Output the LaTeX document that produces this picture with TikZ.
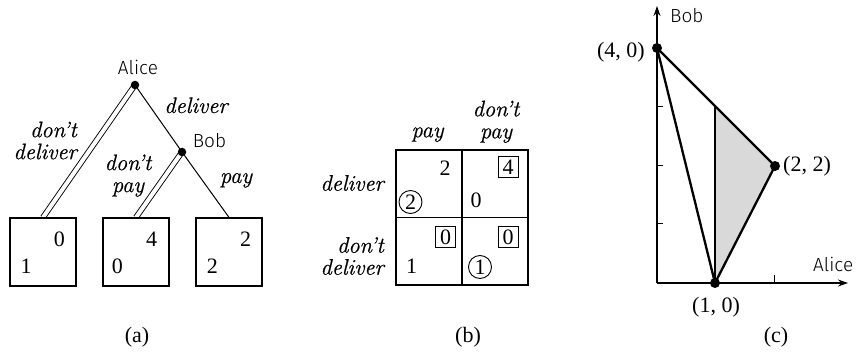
\documentclass[tikz,border=0pt]{standalone}
\usepackage{fontspec}
\setmainfont{Liberation Serif}
\newfontfamily\itserif{Latin Modern Roman}[FakeBold=0.6, Ligatures=TeX]
\newfontfamily\handfont{Fira Sans Light}
\usetikzlibrary{arrows.meta,backgrounds}
\definecolor{lightshade}{RGB}{217,217,217}
\begin{document}
\begin{tikzpicture}[x=1pt,y=-1pt,
  serif/.style={font=\fontsize{22}{22}\selectfont, inner sep=0},
  ital/.style={font=\itserif\itshape\fontsize{22.5}{22}\selectfont, inner sep=0},
  hand/.style={font=\handfont\fontsize{19}{20}\selectfont, inner sep=0},
  blackdot/.style={circle, fill, inner sep=0, minimum size=8.5pt},
  bigdot/.style={circle, fill, inner sep=0, minimum size=10pt},
  payoffbox/.style={draw, line width=1.2pt, minimum width=66pt, minimum height=68pt, inner sep=0},
  treeline/.style={line width=1pt},
  dbl/.style={double, double distance=4pt, line width=0.9pt},
  cell/.style={draw, line width=1.2pt, minimum width=66pt, minimum height=67.5pt, inner sep=0},
  boxed/.style={serif, draw, line width=1pt, minimum width=20pt, minimum height=21pt},
  circled/.style={serif, draw, circle, line width=0.9pt, minimum size=23pt},
  polyline/.style={line width=2.3pt, line join=round},
  axisline/.style={line width=1.2pt},
  ticks/.style={line width=1pt},
]
\useasboundingbox (0,0) rectangle (868,358);

% ---------- (a) ----------
\node[blackdot] (alice) at (135,85) {};
\node[blackdot] (bob) at (182,152) {};
\node[payoffbox] (box1) at (43,252) {};
\node[payoffbox] (box2) at (136,252) {};
\node[payoffbox] (box3) at (229,252) {};
\begin{pgfonlayer}{background}
  \draw[dbl] (alice.center) -- (box1.north);
  \draw[treeline] (alice.center) -- (bob.center);
  \draw[dbl] (bob.center) -- (box2.north);
  \draw[treeline] (bob.center) -- (box3.north);
\end{pgfonlayer}
\node[hand, anchor=base] (alicelbl) at (138,75) {Alice};
\node[hand, anchor=base] (boblbl) at (209.5,148) {Bob};
\node[ital, anchor=base] (ldeliver) at (196,113) {deliver};
\node[ital, align=right, anchor=east] (ldontdeliver) at (77,140.5) {don’t\\deliver};
\node[ital, align=center] (ldontpay) at (128,175.6) {don’t\\pay};
\node[ital, anchor=base] (lpay) at (236,183) {pay};
\node[serif, anchor=base] (b1a) at (59.3,247) {0};
\node[serif, anchor=base] (b1b) at (26,273) {1};
\node[serif, anchor=base] (b2a) at (151.7,247) {4};
\node[serif, anchor=base] (b2b) at (117.3,273) {0};
\node[serif, anchor=base] (b3a) at (245.7,247) {2};
\node[serif, anchor=base] (b3b) at (212.3,273) {2};
\node[serif, anchor=base] (capa) at (137,342) {(a)};

% ---------- (b) ----------
\node[cell] (c11) at (429,183.75) {};
\node[cell] (c12) at (495,183.75) {};
\node[cell] (c21) at (429,251.25) {};
\node[cell] (c22) at (495,251.25) {};
\node[ital, anchor=base] (colpay) at (427.5,137.3) {pay};
\node[ital, align=center] (coldontpay) at (496,121.8) {don’t\\pay};
\node[ital, anchor=base east] (rowdeliver) at (384,190.7) {deliver};
\node[ital, align=right, anchor=east] (rowdontdeliver) at (384,256) {don’t\\deliver};
\node[serif, anchor=base] (m11a) at (445,176) {2};
\node[circled] (m11b) at (410.5,202) {2};
\node[boxed] (m12a) at (508,167) {4};
\node[serif, anchor=base] (m12b) at (476,208) {0};
\node[boxed] (m21a) at (445.5,237.5) {0};
\node[serif, anchor=base] (m21b) at (411.5,274) {1};
\node[boxed] (m22a) at (508,237.5) {0};
\node[circled] (m22b) at (480,267) {1};
\node[serif, anchor=base] (capb) at (468,342) {(b)};

% ---------- (c) ----------
\coordinate (origin) at (657,283);
\coordinate (ytip) at (657,6);
\coordinate (xtip) at (848,283);
\coordinate (top) at (715,107);
\node[bigdot] (p40) at (657,48) {};
\node[bigdot] (p22) at (775,166) {};
\node[bigdot] (p10) at (715,283) {};
\begin{pgfonlayer}{background}
  \fill[lightshade] (top) -- (p22.center) -- (p10.center) -- cycle;
  \draw[axisline, -{Stealth[length=10pt,width=7pt]}] (origin) -- (xtip);
  \draw[axisline, -{Stealth[length=10pt,width=7pt]}] (origin) -- (ytip);
  \draw[ticks] (657,107) -- (663,107);
  \draw[ticks] (657,166) -- (663,166);
  \draw[ticks] (657,224) -- (663,224);
  \draw[ticks] (774,283) -- (774,275);
  \draw[polyline] (p40.center) -- (p22.center) -- (p10.center) -- cycle;
  \draw[polyline] (top) -- (p10.center);
\end{pgfonlayer}
\node[serif, anchor=east] (l40) at (645,52) {(4, 0)};
\node[serif, anchor=west] (l22) at (783,166) {(2, 2)};
\node[serif] (l10) at (716,307.5) {(1, 0)};
\node[hand, anchor=base west] (axbob) at (670,23) {Bob};
\node[hand, anchor=base west] (axalice) at (813,272) {Alice};
\node[serif, anchor=base] (capc) at (776,342) {(c)};
\end{tikzpicture}
\end{document}
